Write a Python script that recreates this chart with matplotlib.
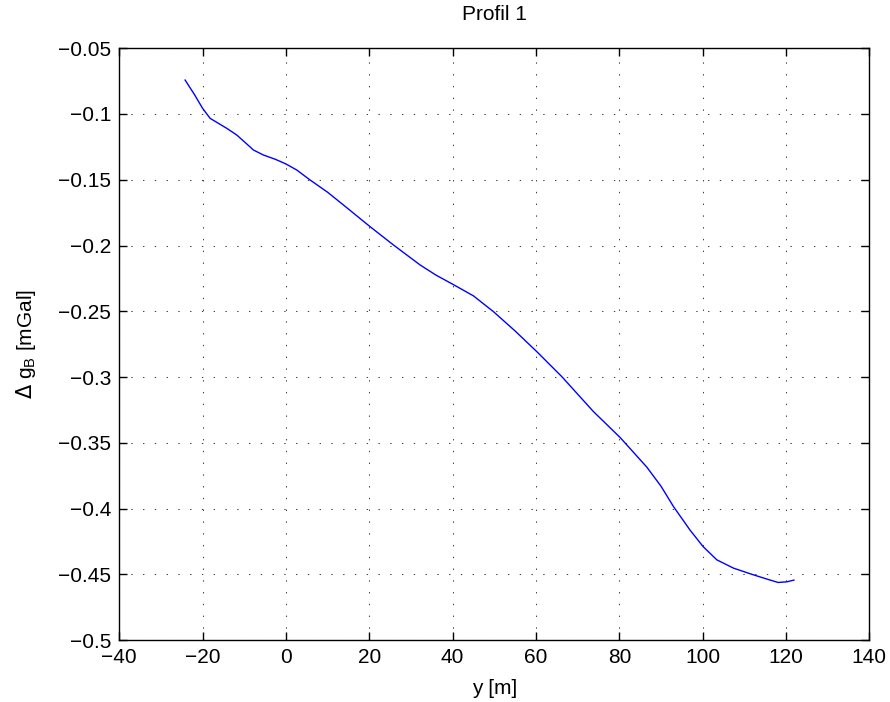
# Profil 1 - Bouguer anomaly along profile
import numpy as np
import matplotlib
matplotlib.use("Agg")
import matplotlib.pyplot as plt

# data
y_pos = [-24.2, -22.0, -20.0, -18.2, -16.0, -14.2, -11.8, -9.5, -7.8, -5.4,
         -2.5, 0.0, 2.6, 5.8, 10.0, 13.8, 20.2, 25.8, 32.2, 36.0, 40.0,
         45.0, 49.8, 55.0, 60.2, 66.2, 73.8, 80.2, 86.6, 90.0, 93.0, 97.0,
         100.1, 103.4, 107.4, 111.8, 115.4, 118.1, 120.2, 121.9]
delta_g = [-0.0742, -0.0850, -0.0957, -0.1033, -0.1075, -0.1109, -0.1160,
           -0.1225, -0.1274, -0.1312, -0.1345, -0.1380, -0.1426, -0.1502,
           -0.1595, -0.1692, -0.1857, -0.1996, -0.2148, -0.2225, -0.2294,
           -0.2383, -0.2503, -0.2650, -0.2807, -0.2997, -0.3263, -0.3460,
           -0.3685, -0.3830, -0.3985, -0.4165, -0.4289, -0.4390, -0.4453,
           -0.4500, -0.4536, -0.4562, -0.4557, -0.4544]

x_ticks = [-40, -20, 0, 20, 40, 60, 80, 100, 120, 140]
y_ticks = [-0.5, -0.45, -0.4, -0.35, -0.3, -0.25, -0.2, -0.15, -0.1, -0.05]
y_ticklabels = ["\u22120.5", "\u22120.45", "\u22120.4", "\u22120.35", "\u22120.3",
                "\u22120.25", "\u22120.2", "\u22120.15", "\u22120.1", "\u22120.05"]
x_ticklabels = ["\u221240", "\u221220", "0", "20", "40", "60", "80", "100", "120", "140"]

plt.rcParams['font.family'] = ['Liberation Sans', 'DejaVu Sans']
plt.rcParams['font.size'] = 15

fig = plt.figure(figsize=(8.9, 7.02), dpi=100)
ax = fig.add_axes([0.134, 0.0882, 0.8428, 0.8431])

ax.plot(y_pos, delta_g, color=(0, 0, 1), linewidth=1.0)

ax.set_xlim(-40, 140)
ax.set_ylim(-0.5, -0.05)
ax.set_xticks(x_ticks)
ax.set_xticklabels(x_ticklabels)
ax.set_yticks(y_ticks)
ax.set_yticklabels(y_ticklabels)

# MATLAB style dotted grid
ax.grid(True, color='#404040', linestyle=(0, (1.3, 10)), linewidth=0.75)
ax.tick_params(direction='in', top=True, right=True, length=6, width=1,
               labelsize=15, pad=6)
for s in ax.spines.values():
    s.set_linewidth(1.0)

ax.set_title("Profil 1", fontsize=15, pad=20)
ax.set_xlabel("y [m]", fontsize=15, labelpad=8)
ax.set_ylabel(r"$\Delta$ g$_\mathregular{B}$ [mGal]", fontsize=15, labelpad=14)

fig.savefig("out.png", dpi=100)
